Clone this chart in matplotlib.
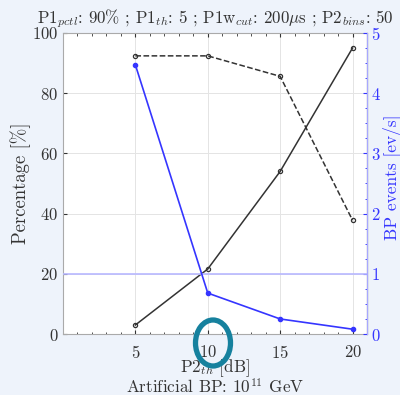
import numpy as np
import matplotlib.pyplot as plt
from matplotlib.patches import Ellipse

plt.rcParams['font.family'] = ['cmr10', 'DejaVu Serif']
plt.rcParams['mathtext.fontset'] = 'cm'
plt.rcParams['axes.formatter.use_mathtext'] = True

p2_th = [5, 10, 15, 20]
pct_solid = [3, 21.6, 54, 95]
pct_dashed = [92.4, 92.4, 85.6, 37.8]
bp_events = [4.47, 0.68, 0.25, 0.08]
ref_rate = 1.0

fig = plt.figure(figsize=(4.0, 3.95), dpi=100)
fig.patch.set_facecolor('#eef3fb')
ax = fig.add_axes([0.1575, 0.1544, 0.76, 0.7621])
ax.set_facecolor('white')

ax.plot(p2_th, pct_solid, '-o', color='#333333', lw=1.1, ms=3,
        mfc='none', mew=0.9)
ax.plot(p2_th, pct_dashed, '--o', color='#333333', lw=1.1, ms=3,
        mfc='none', mew=0.9)
ax.set_xlim(0, 21)
ax.set_ylim(0, 100)
ax.set_xticks(p2_th)
ax.set_xticks(np.arange(1, 21), minor=True)
ax.set_yticks([0, 20, 40, 60, 80, 100])
ax.grid(True, which='major', color='#e4e4e4', lw=0.7)
ax.set_axisbelow(True)
ax.tick_params(direction='in', length=3, labelsize=12, colors='#333333',
               top=True, which='both')
ax.tick_params(axis='x', pad=7)
ax.tick_params(which='minor', length=1.8)
ax.tick_params(axis='y', right=False)
for s in ['left', 'bottom', 'top']:
    ax.spines[s].set_color('#aaaaaa')
ax.set_ylabel('Percentage [%]', fontsize=13.5, color='#333333', va='center')
ax.yaxis.set_label_coords(-0.14, 0.5)
ax.set_xlabel('P2$_{th}$ [dB]', fontsize=12.3, color='#333333', va='center')
ax.xaxis.set_label_coords(0.5, -0.112)
fig.text(0.5 * (63 + 367) / 400, 1 - 387 / 395,
         'Artificial BP: $10^{11}$ GeV', fontsize=12.3, color='#333333',
         ha='center', va='center')
ax.set_title('P1$_{pctl}$: 90% ; P1$_{th}$: 5 ; P1w$_{cut}$: 200$\\mu$s ; P2$_{bins}$: 50',
             fontsize=12.2, color='#333333', pad=7)

ax2 = ax.twinx()
ax2.axhline(ref_rate, color='#b8b8ff', lw=1.2)
ax2.plot(p2_th, bp_events, '-o', color='#3535ff', lw=1.2, ms=3)
ax2.set_ylim(0, 5)
ax2.set_yticks([0, 1, 2, 3, 4, 5])
ax2.set_yticks(np.arange(0, 5.01, 0.25), minor=True)
ax2.tick_params(direction='in', length=3, labelsize=12, colors='#3535ff',
                which='both', pad=3)
ax2.tick_params(which='minor', length=1.8)
ax2.spines['right'].set_color('#a8a8ff')
ax2.spines['left'].set_visible(False)
ax2.spines['top'].set_visible(False)
ax2.spines['bottom'].set_visible(False)
ax2.set_ylabel('BP events [ev/s]', fontsize=12.5, color='#3535ff', va='center')
ax2.yaxis.set_label_coords(1.08, 0.52)

fig.patches.append(Ellipse((213 / 400, 1 - 343 / 395), 35 / 400, 46 / 395,
                           transform=fig.transFigure, fill=False,
                           edgecolor='#16819e', lw=3.8, zorder=10))

fig.savefig('out.png', dpi=100, facecolor=fig.get_facecolor())
